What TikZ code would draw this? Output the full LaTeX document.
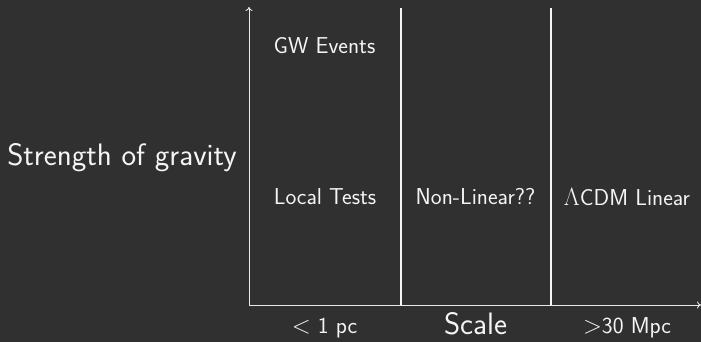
\documentclass[tikz,border=0pt]{standalone}
\usetikzlibrary{arrows.meta}
\definecolor{bg}{RGB}{48,48,48}
\definecolor{fg}{RGB}{245,245,245}
\begin{document}
\begin{tikzpicture}[x=1pt,y=-1pt,
  lbl/.style={text=fg,font=\sffamily\fontsize{23}{27}\selectfont,inner sep=0pt},
  big/.style={text=fg,font=\sffamily\fontsize{31}{36}\selectfont,inner sep=0pt},
  axis/.style={draw=fg!90!gray,line width=0.9pt,-{To[length=4pt,width=7pt]}},
  divider/.style={draw=fg,line width=2pt}]
\fill[bg] (0,0) rectangle (701,342);
\useasboundingbox (0,0) rectangle (701,342);
\coordinate (O) at (249,305);
\coordinate (ytop) at (249,7);
\coordinate (xend) at (701,305);
\coordinate (d1b) at (400.5,305);
\coordinate (d1t) at (400.5,8);
\coordinate (d2b) at (551,305);
\coordinate (d2t) at (551,8);
\draw[axis] (O) -- (ytop);
\draw[axis] (O) -- (xend);
\draw[divider] (d1b) -- (d1t);
\draw[divider] (d2b) -- (d2t);
\node[big] (sg) at (122,158) {Strength of gravity};
\node[lbl] (gw) at (324.5,46) {GW Events};
\node[lbl] (lt) at (325,197) {Local Tests};
\node[lbl] (nl) at (475.5,197) {Non-Linear??};
\node[lbl] (lc) at (627,197) {$\Lambda$CDM Linear};
\node[lbl] (s1) at (324.5,328) {$<$ 1 pc};
\node[big,anchor=base] (sc) at (475.5,334) {Scale};
\node[lbl] (s2) at (627,328) {$>$30 Mpc};
\end{tikzpicture}
\end{document}
